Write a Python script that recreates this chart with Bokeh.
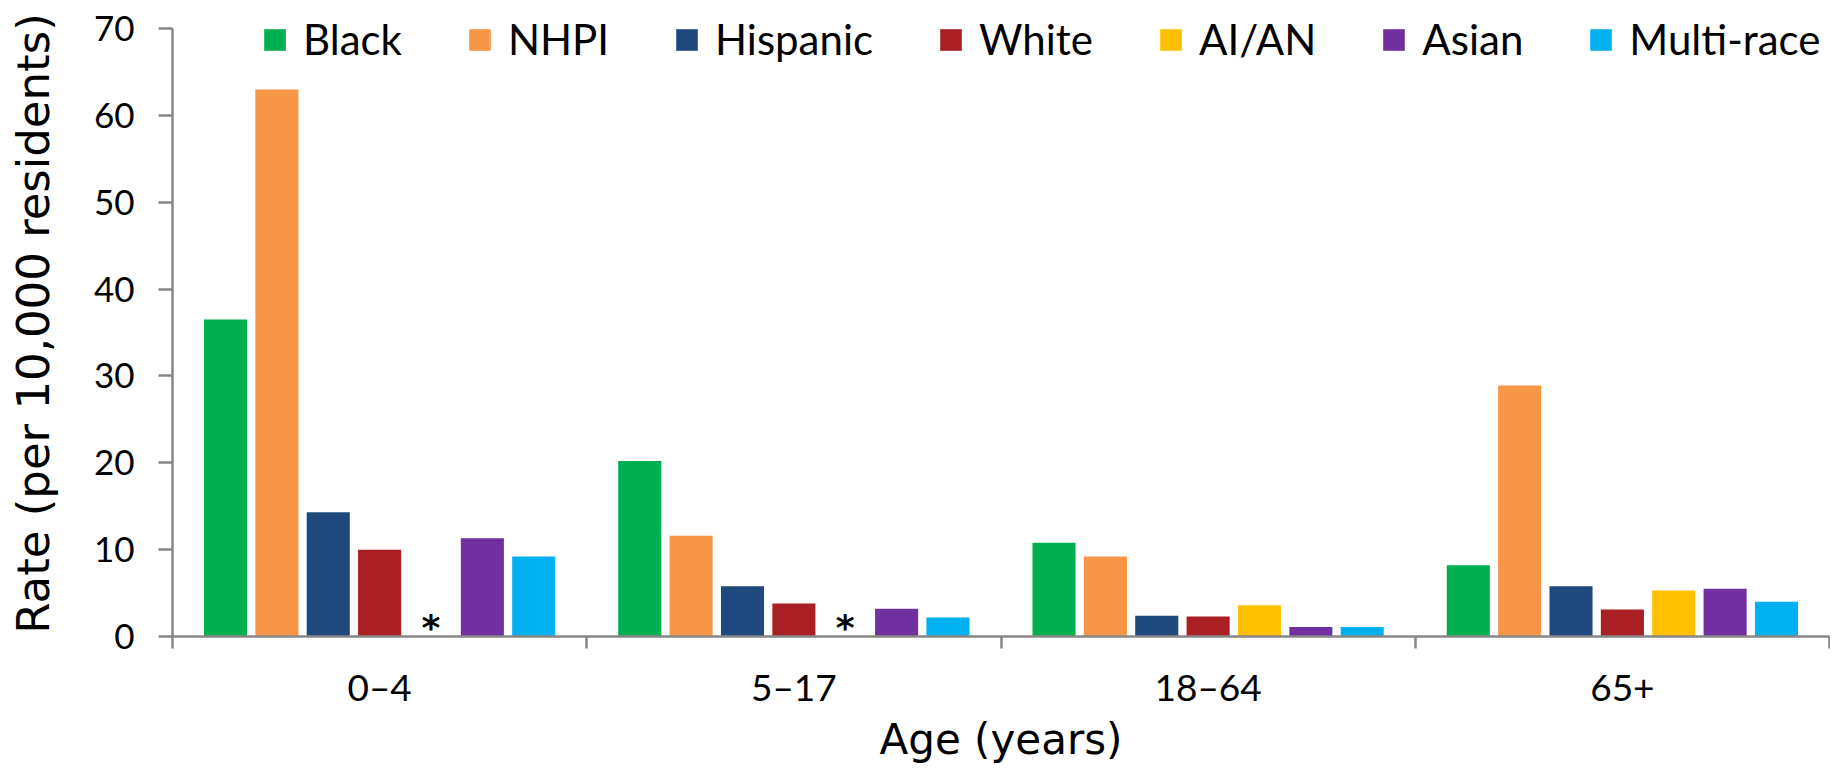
from bokeh.plotting import figure
from bokeh.models import (ColumnDataSource, FixedTicker, Range1d, LinearAxis, Legend, LegendItem)
from bokeh.core.properties import value
from bokeh.embed import file_html
from bokeh.resources import INLINE

categories = ["0\u20134", "5\u201317", "18\u201364", "65+"]
races = ["Black", "NHPI", "Hispanic", "White", "AI/AN", "Asian", "Multi-race"]
colors = ["#00B050", "#F79646", "#1F497D", "#A91F23", "#FFC000", "#7030A0", "#00B0F0"]

black = [36.5, 20.2, 10.8, 8.2]
nhpi = [63.0, 11.6, 9.2, 28.9]
hispanic = [14.3, 5.8, 2.4, 5.8]
white = [10.0, 3.8, 2.3, 3.1]
aian = [None, None, 3.6, 5.3]
asian = [11.3, 3.2, 1.1, 5.5]
multi = [9.2, 2.2, 1.1, 4.0]
series = [black, nhpi, hispanic, white, aian, asian, multi]

y_ticks = [0, 10, 20, 30, 40, 50, 60, 70]

LEG_FONT = "Lato"
TITLE_FONT = "DejaVu Sans"
AXIS_GRAY = "#878787"

# layout: axis runs 0..70; a little headroom above 70 keeps the legend inside the frame
Y_MAX = 70
PX_PER_UNIT = 605 / Y_MAX
HEADROOM_PX = 18
y_end = Y_MAX + HEADROOM_PX / PX_PER_UNIT

p = figure(width=1830, height=766, output_backend="svg", toolbar_location=None,
           x_range=Range1d(0, 4), y_range=Range1d(0, y_end),
           min_border_left=172, min_border_top=28 - HEADROOM_PX, min_border_right=1,
           min_border_bottom=0, x_axis_type=None, y_axis_type=None)
p.outline_line_color = None
p.xgrid.visible = False
p.ygrid.visible = False
p.background_fill_color = "white"
p.border_fill_color = "white"

step = 0.124
bar_w = 0.104
items = []
star_x = []
for j, (name, vals, col) in enumerate(zip(races, series, colors)):
    xs = [i + 0.5 + (j - 3) * step for i in range(len(categories))]
    tops = [v if v is not None else float("nan") for v in vals]
    src = ColumnDataSource(dict(x=xs, top=tops))
    r = p.vbar(x="x", top="top", width=bar_w, source=src, fill_color=col, line_color=None)
    items.append(LegendItem(label=name, renderers=[r]))
    star_x += [x for x, v in zip(xs, vals) if v is None]

# "*" marks the suppressed (missing) values
star_src = ColumnDataSource(dict(x=star_x, y=[0.0] * len(star_x), t=["*"] * len(star_x)))
p.text(x="x", y="y", text="t", source=star_src,
       text_font=value("DejaVu Sans"), text_font_size="36px", text_font_style="bold",
       text_align="center", text_baseline="alphabetic", y_offset=-9, text_color="black")

xaxis = LinearAxis(ticker=FixedTicker(ticks=[i + 0.5 for i in range(len(categories))],
                                      minor_ticks=list(range(len(categories) + 1))),
                   major_label_overrides={i + 0.5: c for i, c in enumerate(categories)})
xaxis.axis_line_color = AXIS_GRAY
xaxis.axis_line_width = 2.5
xaxis.major_tick_line_color = None
xaxis.major_tick_out = 0
xaxis.major_tick_in = 0
xaxis.minor_tick_line_color = AXIS_GRAY
xaxis.minor_tick_line_width = 2.5
xaxis.minor_tick_out = 12
xaxis.minor_tick_in = 0
xaxis.major_label_standoff = 15
xaxis.major_label_text_font = LEG_FONT
xaxis.major_label_text_font_size = "37px"
xaxis.major_label_text_color = "black"
xaxis.axis_label = "Age (years)"
xaxis.axis_label_text_font = TITLE_FONT
xaxis.axis_label_text_font_size = "42px"
xaxis.axis_label_text_font_style = "normal"
xaxis.axis_label_text_color = "black"
xaxis.axis_label_standoff = 3
p.add_layout(xaxis, "below")

yaxis = LinearAxis(ticker=FixedTicker(ticks=y_ticks, minor_ticks=[]), bounds=(0, Y_MAX))
yaxis.axis_line_color = AXIS_GRAY
yaxis.axis_line_width = 2.5
yaxis.major_tick_line_color = AXIS_GRAY
yaxis.major_tick_line_width = 2.5
yaxis.major_tick_out = 14
yaxis.major_tick_in = 0
yaxis.major_label_standoff = 24
yaxis.major_label_text_font = LEG_FONT
yaxis.major_label_text_font_size = "35px"
yaxis.major_label_text_color = "black"
yaxis.axis_label = "Rate (per 10,000 residents)"
yaxis.axis_label_text_font = TITLE_FONT
yaxis.axis_label_text_font_size = "45px"
yaxis.axis_label_text_font_style = "normal"
yaxis.axis_label_text_color = "black"
yaxis.axis_label_standoff = 31
p.add_layout(yaxis, "left")

legend = Legend(items=items, orientation="horizontal", location=(89, 572),
                glyph_width=27, glyph_height=27, label_standoff=15, spacing=64,
                label_text_font=LEG_FONT, label_text_font_size="42px",
                label_text_color="black", border_line_color=None,
                background_fill_alpha=0, padding=0, margin=0, label_height=27)
p.add_layout(legend, "center")

open("out.html", "w").write(file_html(p, INLINE))
